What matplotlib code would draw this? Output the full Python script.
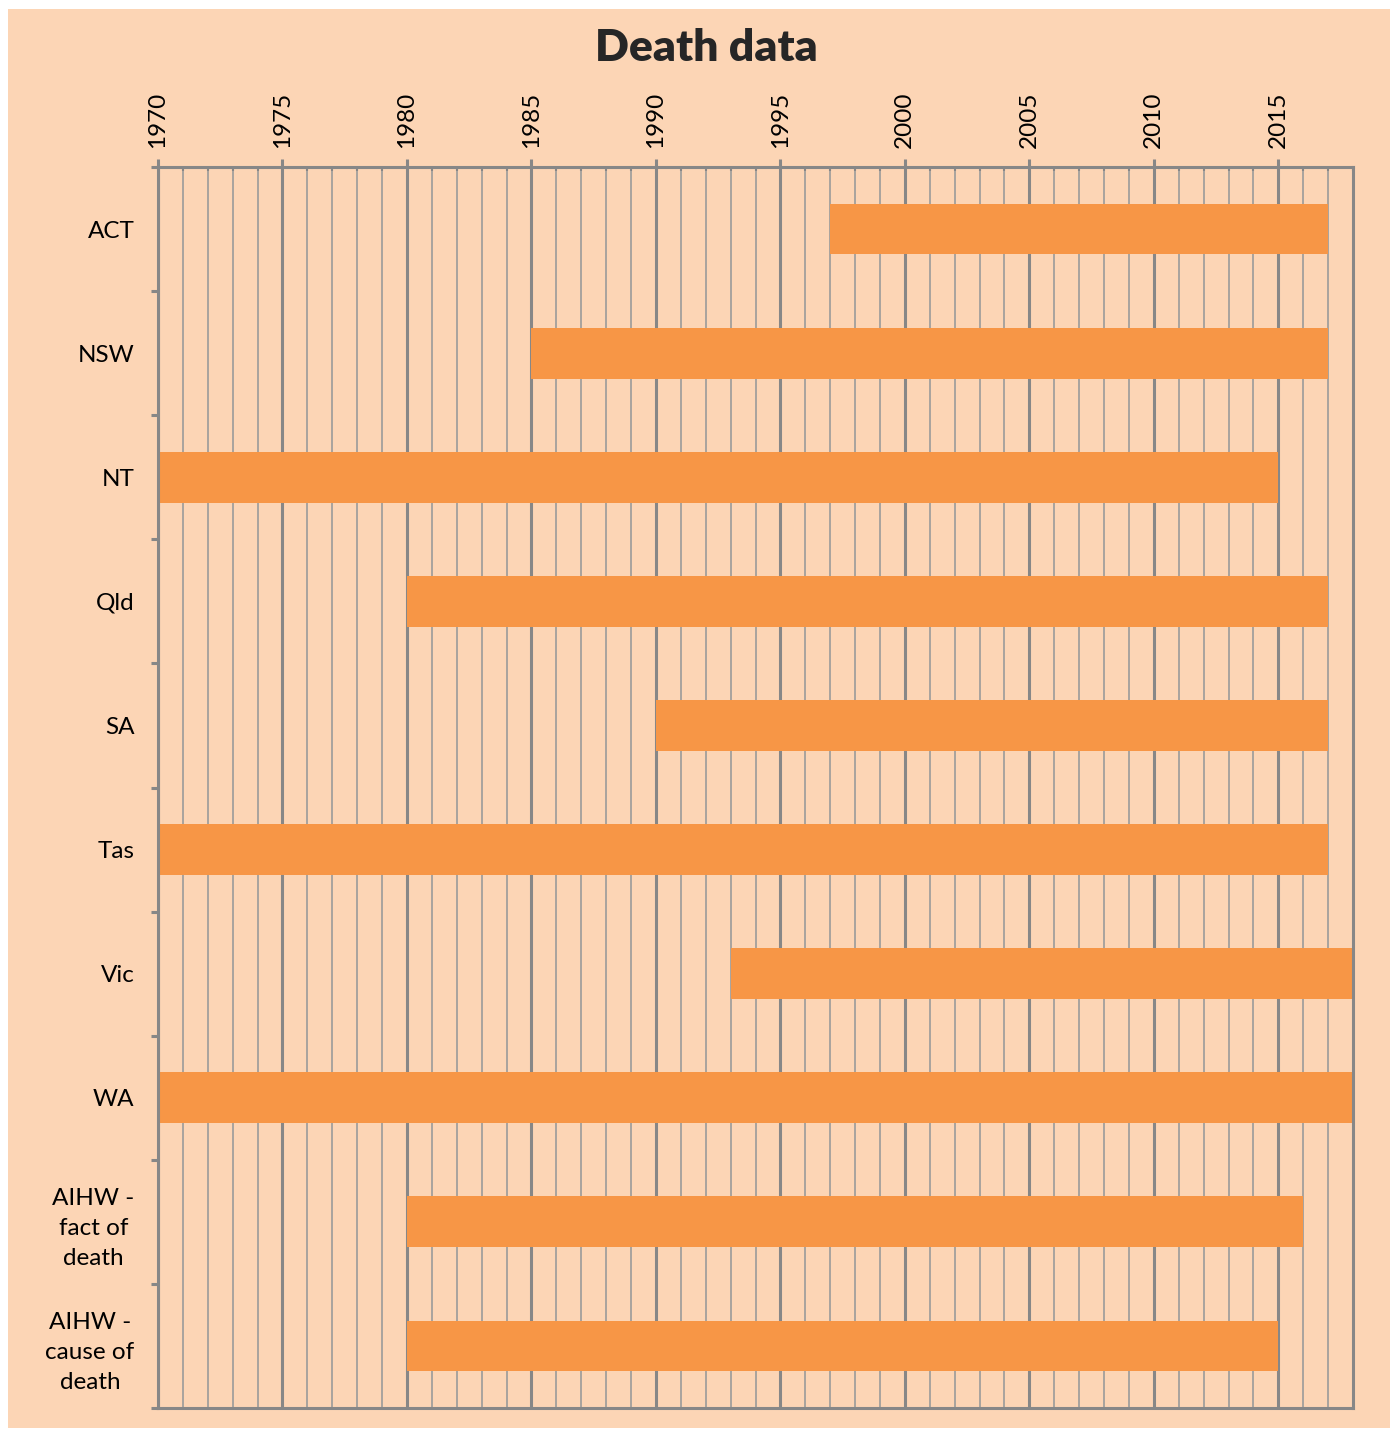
import matplotlib.pyplot as plt
from matplotlib.patches import Rectangle
from matplotlib.ticker import MultipleLocator, FixedLocator

plt.rcParams['font.family'] = ['Lato', 'DejaVu Sans']

# data: start year and end year of available records
sources = ['ACT', 'NSW', 'NT', 'Qld', 'SA', 'Tas', 'Vic', 'WA',
           'AIHW -\nfact of\ndeath', 'AIHW -\ncause of\ndeath']
start_year = [1997, 1985, 1970, 1980, 1990, 1970, 1993, 1970, 1980, 1980]
end_year = [2017, 2017, 2015, 2017, 2017, 2017, 2018, 2018, 2016, 2015]

bg = '#FCD5B5'
bar_col = '#F79646'
grid_dark = '#878787'
grid_light = '#A8A39E'

fig = plt.figure(figsize=(14, 14.37), dpi=100)
fig.patch.set_facecolor('white')
fig.patches.append(Rectangle((8/1400, 1-1428/1437), 1382/1400, 1419/1437,
                             transform=fig.transFigure, facecolor=bg,
                             edgecolor='none', zorder=-10))

ax = fig.add_axes([158/1400, 1-1408/1437, 1195/1400, 1241/1437])
ax.set_facecolor(bg)

ypos = list(range(len(sources)))
widths = [e - s for s, e in zip(start_year, end_year)]
ax.barh(ypos, widths, left=start_year, height=0.41, color=bar_col, zorder=3)

ax.set_xlim(1970, 2018)
ax.set_ylim(len(sources) - 0.5, -0.5)

# x axis on top
ax.xaxis.tick_top()
ax.xaxis.set_major_locator(MultipleLocator(5))
ax.xaxis.set_minor_locator(MultipleLocator(1))
ax.tick_params(axis='x', which='major', direction='out', length=6, width=2.2,
               color=grid_dark, labelsize=17.5, pad=8, labelrotation=90)
ax.tick_params(axis='x', which='minor', direction='in', length=3, width=1.5,
               color=grid_dark)
ax.grid(axis='x', which='major', color=grid_dark, linewidth=2.2, zorder=1)
ax.grid(axis='x', which='minor', color=grid_light, linewidth=1.4, zorder=1)

# y axis: ticks at category boundaries, labels at centers
ax.yaxis.set_major_locator(FixedLocator([i - 0.5 for i in range(len(sources) + 1)]))
ax.yaxis.set_minor_locator(FixedLocator(ypos))
ax.set_yticklabels([], minor=False)
ax.set_yticklabels(sources, minor=True, multialignment='center', linespacing=1.55)
ax.tick_params(axis='y', which='major', direction='out', length=5, width=2.2,
               color=grid_dark)
ax.tick_params(axis='y', which='minor', length=0, labelsize=17.5, pad=17)
ax.set_axisbelow(True)

for sp in ax.spines.values():
    sp.set_color(grid_dark)
    sp.set_linewidth(2.2)
    sp.set_zorder(4)

fig.text(706/1400, 1-48/1437, 'Death data', ha='center', va='center',
         fontsize=32, fontweight='heavy', color='#262626')

fig.savefig('out.png', dpi=100, facecolor=fig.get_facecolor())
